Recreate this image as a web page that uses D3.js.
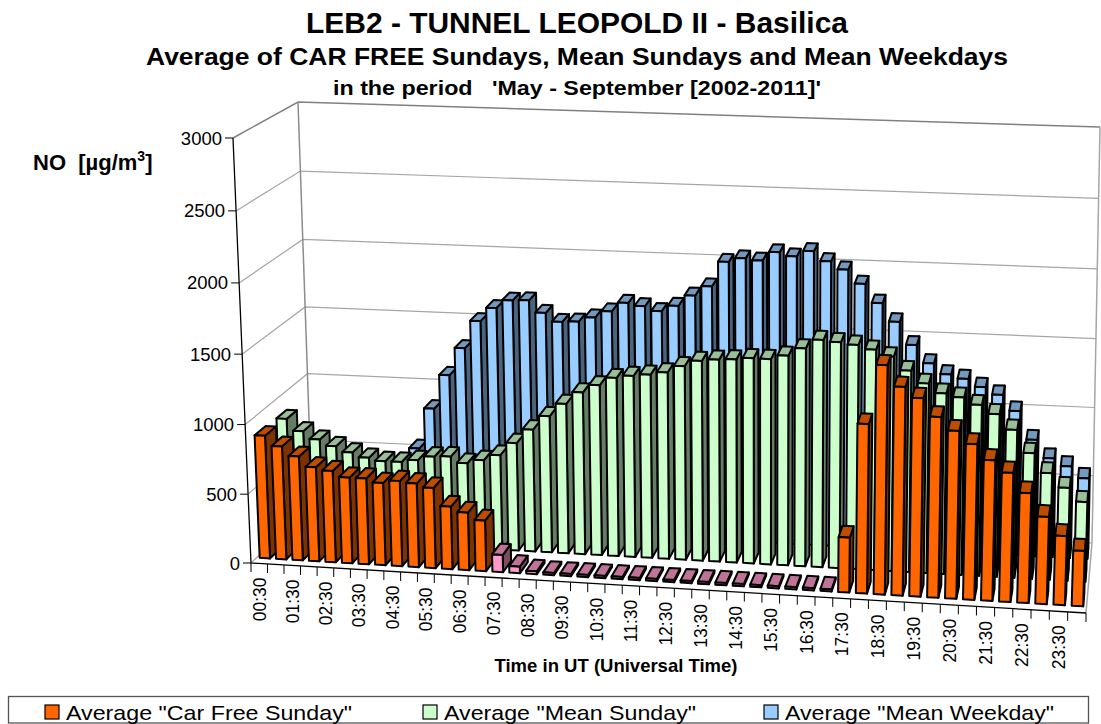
<!DOCTYPE html>
<html>
<head>
<meta charset="utf-8">
<script src="https://cdnjs.cloudflare.com/ajax/libs/d3/7.8.5/d3.min.js"></script>
<style>
  body { margin: 0; background: #fff; }
  svg { display: block; font-family: "Liberation Sans", Arial, sans-serif; }
</style>
</head>
<body>
<svg class="canvas"></svg>
<script>
const categories = ["00:30","01:00","01:30","02:00","02:30","03:00","03:30","04:00","04:30","05:00","05:30","06:00",
  "06:30","07:00","07:30","08:00","08:30","09:00","09:30","10:00","10:30","11:00","11:30","12:00",
  "12:30","13:00","13:30","14:00","14:30","15:00","15:30","16:00","16:30","17:00","17:30","18:00",
  "18:30","19:00","19:30","20:00","20:30","21:00","21:30","22:00","22:30","23:00","23:30","24:00"];

const carFree = [891,820,754,683,663,622,622,596,617,606,581,453,417,366,124,47,21,16,16,16,16,16,16,16,
  16,16,16,16,16,16,16,16,16,16,392,1200,1616,1471,1399,1275,1185,1099,993,912,777,617,489,392];
const meanSunday = [881,797,741,699,658,626,607,607,626,658,665,623,651,694,788,892,995,1090,1178,1236,1294,1315,1330,1351,
  1402,1445,1460,1467,1481,1481,1510,1568,1633,1623,1610,1581,1538,1445,1360,1296,1274,1226,1167,1062,902,767,667,573];
const meanWeekday = [470,400,340,310,300,330,430,572,874,1127,1331,1535,1635,1695,1701,1614,1554,1561,1596,1645,1712,1693,1662,1705,
  1784,1855,2036,2066,2055,2119,2094,2136,2069,2014,1917,1786,1656,1496,1370,1296,1268,1215,1165,1053,850,722,670,589];

// the car free period itself, drawn in pink
const carFreePeriod = categories.slice(14, 34);

const seriesNames = ['Average "Car Free Sunday"', 'Average "Mean Sunday"', 'Average "Mean Weekday"'];
const seriesValues = [carFree, meanSunday, meanWeekday];
const seriesColors = ["#ff6600", "#ccffcc", "#99ccff"];
const pink = "#ff99cc";

const yTicks = [0, 500, 1000, 1500, 2000, 2500, 3000];
const xLabels = categories.filter((c, i) => i % 2 === 0);

const w = 1101;
const h = 724;

const svg = d3.select("svg.canvas").attr("width", w).attr("height", h);

// box corners on screen: f = front, b = back, l/r, b/t = bottom/top
const box = {
  flb: [251, 563], frb: [1086, 613], blb: [312, 505], brb: [1092, 543],
  flt: [233, 138], frt: [1099, 175], blt: [298, 102], brt: [1100, 127]
};

const xBand = d3.scaleBand().domain(categories).range([0, 1]).paddingInner(0.37).paddingOuter(0.185);
const depthBand = d3.scaleBand().domain(seriesNames).range([0, 1]).paddingInner(0.5).paddingOuter(0.25);
const yScale = d3.scaleLinear().domain([0, 3000]).range([0, 1]);

const lerp = (a, b, t) => [a[0] + (b[0] - a[0]) * t, a[1] + (b[1] - a[1]) * t];

// x slots get wider to the right, depth slots get narrower to the back, value steps get taller upwards
const warpU = u => u * (1 - 0.054) / (1 - 0.054 * u);
const warpD = d => d * 1.12 / (1 + 0.12 * d);
const warpV = t => t / (1.035 - 0.035 * t);

let project = (u, d, v) => {
  let uu = warpU(u), dd = warpD(d), t = warpV(yScale(v));
  let bottom = lerp(lerp(box.flb, box.frb, uu), lerp(box.blb, box.brb, uu), dd);
  let top = lerp(lerp(box.flt, box.frt, uu), lerp(box.blt, box.brt, uu), dd);
  return lerp(bottom, top, t);
};

let line = d3.line();

let drawWalls = () => {
  let walls = svg.append("g").attr("fill", "none");

  yTicks.forEach(t => {
    walls.append("path")
      .attr("d", line([project(0, 0, t), project(0, 1, t), project(1, 1, t)]))
      .attr("stroke", t === 3000 ? "#808080" : "#a6a6a6")
      .attr("stroke-width", t === 3000 ? 1.5 : 1.2);
  });

  walls.append("path")
    .attr("d", line([project(0, 1, 0), project(0, 1, 3000)]))
    .attr("stroke", "#8c8c8c").attr("stroke-width", 1.5);
  walls.append("path")
    .attr("d", line([project(1, 1, 3000), project(1, 1, 0), project(1, 0, 0)]))
    .attr("stroke", "#a6a6a6").attr("stroke-width", 1.5);
};

let drawBars = () => {
  let bars = svg.append("g").attr("stroke", "#000").attr("stroke-width", 2).attr("stroke-linejoin", "round");

  // back row first, each row from left to right
  for (let s = seriesNames.length - 1; s >= 0; s--) {
    let d0 = depthBand(seriesNames[s]);
    let d1 = d0 + depthBand.bandwidth();

    categories.forEach((c, i) => {
      let u0 = xBand(c);
      let u1 = u0 + xBand.bandwidth();
      let v = seriesValues[s][i];
      let color = d3.rgb(s === 0 && carFreePeriod.includes(c) ? pink : seriesColors[s]);
      let g = bars.append("g");

      g.append("path")
        .attr("d", line([project(u1, d0, 0), project(u1, d1, 0), project(u1, d1, v), project(u1, d0, v)]) + "Z")
        .attr("fill", color.darker(2));
      g.append("path")
        .attr("d", line([project(u0, d0, v), project(u1, d0, v), project(u1, d1, v), project(u0, d1, v)]) + "Z")
        .attr("fill", d3.rgb(color.r * 0.75, color.g * 0.75, color.b * 0.75));
      g.append("path")
        .attr("d", line([project(u0, d0, 0), project(u1, d0, 0), project(u1, d0, v), project(u0, d0, v)]) + "Z")
        .attr("fill", color);
    });
  }
};

let drawAxes = () => {
  let axes = svg.append("g");

  axes.append("path")
    .attr("d", line([project(0, 0, 3000), project(0, 0, 0), project(1, 0, 0)]))
    .attr("fill", "none").attr("stroke", "#000").attr("stroke-width", 1.3);

  yTicks.forEach(t => {
    let p = project(0, 0, t);
    axes.append("line")
      .attr("x1", p[0] - 8).attr("x2", p[0])
      .attr("y1", p[1]).attr("y2", p[1])
      .attr("stroke", "#000").attr("stroke-width", 1);
    axes.append("text")
      .attr("x", p[0] - 11).attr("y", p[1] + 6.5)
      .attr("text-anchor", "end").attr("font-size", 18.5)
      .text(t);
  });

  // one tick on every slot edge
  d3.range(categories.length + 1).forEach(i => {
    let p = project(i / categories.length, 0, 0);
    axes.append("line")
      .attr("x1", p[0]).attr("x2", p[0])
      .attr("y1", p[1]).attr("y2", p[1] + 9)
      .attr("stroke", "#000").attr("stroke-width", 1);
  });

  xLabels.forEach(c => {
    let p = project(xBand(c) + xBand.bandwidth() / 2, 0, 0);
    axes.append("text")
      .attr("transform", "translate(" + (p[0] + 6.5) + "," + (p[1] + 14) + ") rotate(-90)")
      .attr("text-anchor", "end").attr("font-size", 17.5)
      .text(c);
  });
};

let drawText = () => {
  let title = [
    ["LEB2 - TUNNEL LEOPOLD II - Basilica", 33, 30, 542],
    ["Average of CAR FREE Sundays, Mean Sundays and Mean Weekdays", 65, 23.5, 862],
    ["in the period\u00a0\u00a0 'May - September [2002-2011]'", 95, 20, 488]
  ];
  title.forEach(t => {
    svg.append("text")
      .attr("x", 577).attr("y", t[1])
      .attr("text-anchor", "middle").attr("font-weight", "bold").attr("font-size", t[2])
      .attr("textLength", t[3]).attr("lengthAdjust", "spacingAndGlyphs")
      .text(t[0]);
  });

  let yLabel = svg.append("text")
    .attr("x", 33).attr("y", 170)
    .attr("font-weight", "bold").attr("font-size", 22);
  yLabel.append("tspan").text("NO\u00a0 [\u00b5g/m");
  yLabel.append("tspan").attr("dy", -9).attr("font-size", 14).text("3");
  yLabel.append("tspan").attr("dy", 9).text("]");

  svg.append("text")
    .attr("x", 616).attr("y", 672)
    .attr("text-anchor", "middle").attr("font-weight", "bold").attr("font-size", 18.5)
    .text("Time in UT (Universal Time)");
};

let drawLegend = () => {
  let legendX = d3.scaleOrdinal().domain(seriesNames).range([45, 423, 764]);
  let legendWidth = d3.scaleOrdinal().domain(seriesNames).range([286, 252, 269]);
  let legend = svg.append("g");

  legend.append("rect")
    .attr("x", 8.5).attr("y", 696.5).attr("width", 1080).attr("height", 26.5)
    .attr("fill", "#fff").attr("stroke", "#555").attr("stroke-width", 1.3);

  seriesNames.forEach((n, s) => {
    legend.append("rect")
      .attr("x", legendX(n)).attr("y", 705).attr("width", 14).attr("height", 14)
      .attr("fill", seriesColors[s]).attr("stroke", "#000").attr("stroke-width", 1.2);
    legend.append("text")
      .attr("x", legendX(n) + 21).attr("y", 720)
      .attr("font-size", 21)
      .attr("textLength", legendWidth(n)).attr("lengthAdjust", "spacingAndGlyphs")
      .text(n);
  });
};

drawWalls();
drawBars();
drawAxes();
drawText();
drawLegend();
</script>
</body>
</html>
